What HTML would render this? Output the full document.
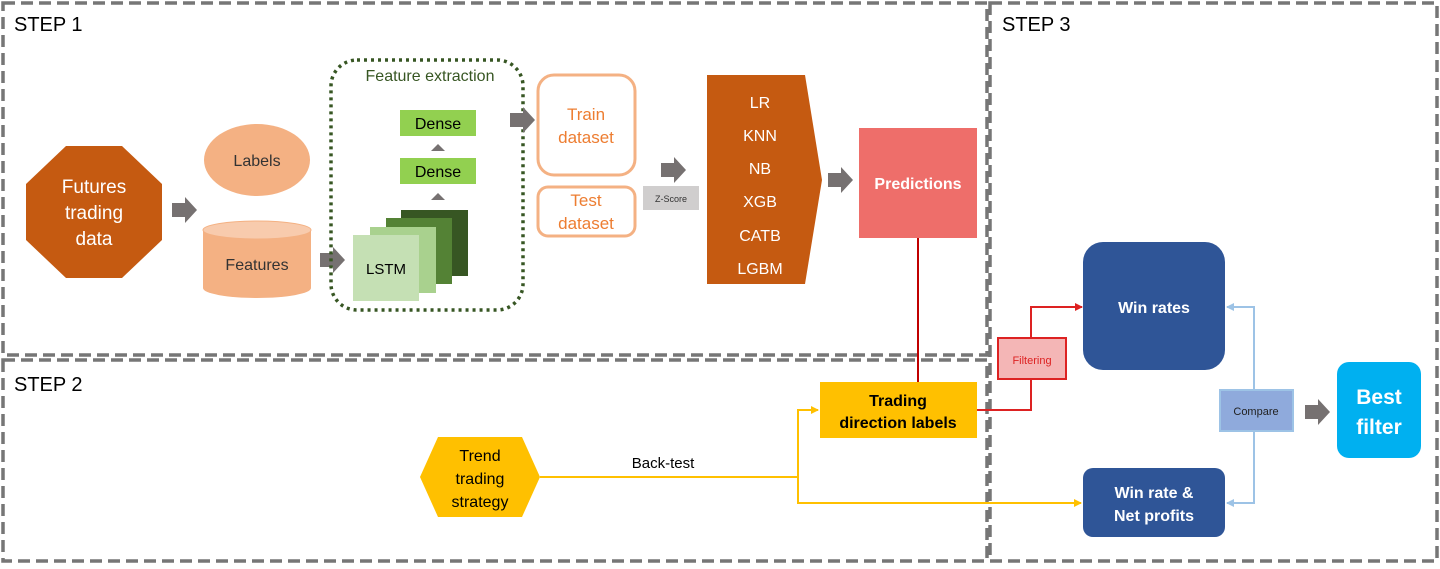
<!DOCTYPE html>
<html><head><meta charset="utf-8"><style>
body{margin:0;background:#fff}
svg text{font-family:"Liberation Sans","DejaVu Sans",sans-serif}
</style></head><body>
<svg width="1440" height="564" viewBox="0 0 1440 564" xmlns="http://www.w3.org/2000/svg">
<defs>
<marker id="ar" markerWidth="8" markerHeight="8" refX="7" refY="4" orient="auto" markerUnits="userSpaceOnUse"><path d="M0,0 L8,4 L0,8 Z" fill="#d22"/></marker>
<marker id="ay" markerWidth="8" markerHeight="8" refX="7" refY="4" orient="auto" markerUnits="userSpaceOnUse"><path d="M0,0 L8,4 L0,8 Z" fill="#ffc000"/></marker>
<marker id="ab" markerWidth="8" markerHeight="8" refX="7" refY="4" orient="auto" markerUnits="userSpaceOnUse"><path d="M0,0 L8,4 L0,8 Z" fill="#9dc3e6"/></marker>
<g id="ga"><path d="M0,-7 L13,-7 L13,-13 L25,0 L13,13 L13,7 L0,7 Z" fill="#767171"/></g>
</defs>
<g fill="none" stroke="#767676" stroke-width="3.5" stroke-dasharray="12,6">
<rect x="3" y="3" width="984" height="352"/>
<rect x="3" y="360" width="984" height="201"/>
<rect x="990" y="3" width="447" height="558"/>
</g>
<g font-size="20" fill="#000"><text x="14" y="31">STEP 1</text><text x="14" y="391">STEP 2</text><text x="1002" y="31">STEP 3</text></g>

<polygon points="66,146 122,146 162,184 162,240 122,278 66,278 26,240 26,184" fill="#c55a11"/>
<g fill="#fff" font-size="19" text-anchor="middle"><text x="94" y="193">Futures</text><text x="94" y="219">trading</text><text x="94" y="245">data</text></g>
<use href="#ga" x="172" y="210"/>
<ellipse cx="257" cy="160" rx="53" ry="36" fill="#f4b183"/>
<text x="257" y="166" font-size="16" fill="#333" text-anchor="middle">Labels</text>
<path d="M203,230 L203,288 A54,10 0 0 0 311,288 L311,230" fill="#f4b183"/>
<ellipse cx="257" cy="230" rx="54" ry="9" fill="#f8cbad" stroke="#f4b183"/>
<text x="257" y="270" font-size="16" fill="#333" text-anchor="middle">Features</text>
<use href="#ga" x="320" y="260"/>

<rect x="331" y="60" width="192" height="250" rx="26" fill="none" stroke="#375623" stroke-width="3.5" stroke-dasharray="3,4"/>
<text x="430" y="81" font-size="16" fill="#375623" text-anchor="middle">Feature extraction</text>
<rect x="401" y="210" width="67" height="66" fill="#375623"/>
<rect x="386" y="218" width="66" height="66" fill="#548235"/>
<rect x="370" y="227" width="66" height="66" fill="#a9d18e"/>
<rect x="353" y="235" width="66" height="66" fill="#c5e0b4"/>
<text x="386" y="274" font-size="15" fill="#000" text-anchor="middle">LSTM</text>
<rect x="400" y="110" width="76" height="26" fill="#92d050"/>
<rect x="400" y="158" width="76" height="26" fill="#92d050"/>
<g font-size="16" fill="#000" text-anchor="middle"><text x="438" y="129">Dense</text><text x="438" y="177">Dense</text></g>
<polygon points="431,151 445,151 438,144" fill="#767171"/>
<polygon points="431,200 445,200 438,193" fill="#767171"/>
<use href="#ga" x="510" y="120"/>

<rect x="538" y="75" width="97" height="100" rx="16" fill="none" stroke="#f4b183" stroke-width="3"/>
<rect x="538" y="187" width="97" height="49" rx="10" fill="none" stroke="#f4b183" stroke-width="3"/>
<g font-size="17" fill="#ed7d31" text-anchor="middle"><text x="586" y="120">Train</text><text x="586" y="143">dataset</text><text x="586" y="206">Test</text><text x="586" y="229">dataset</text></g>
<use href="#ga" x="661" y="170"/>
<rect x="643" y="186" width="56" height="24" fill="#d0cece"/>
<text x="671" y="202" font-size="9" fill="#333" text-anchor="middle">Z-Score</text>

<polygon points="707,75 805,75 822,180 805,284 707,284" fill="#c55a11"/>
<g font-size="16" fill="#fff" text-anchor="middle"><text x="760" y="108">LR</text><text x="760" y="141">KNN</text><text x="760" y="174">NB</text><text x="760" y="207">XGB</text><text x="760" y="241">CATB</text><text x="760" y="274">LGBM</text></g>
<use href="#ga" x="828" y="180"/>
<rect x="859" y="128" width="118" height="110" fill="#ee6e6a"/>
<text x="918" y="189" font-size="16" font-weight="bold" fill="#fff" text-anchor="middle">Predictions</text>

<line x1="918" y1="238" x2="918" y2="382" stroke="#c00000" stroke-width="2"/>
<polyline points="977,410 1031,410 1031,307 1082,307" fill="none" stroke="#d22" stroke-width="2" marker-end="url(#ar)"/>
<rect x="998" y="338" width="68" height="41" fill="#f4b6b6" stroke="#d22" stroke-width="2"/>
<text x="1032" y="364" font-size="11" fill="#d22" text-anchor="middle">Filtering</text>
<rect x="820" y="382" width="157" height="56" fill="#ffc000"/>
<g font-size="16" font-weight="bold" fill="#000" text-anchor="middle"><text x="898" y="406">Trading</text><text x="898" y="428">direction labels</text></g>

<polygon points="438,437 522,437 540,477 522,517 438,517 420,477" fill="#ffc000"/>
<g font-size="16" fill="#000" text-anchor="middle"><text x="480" y="461">Trend</text><text x="480" y="484">trading</text><text x="480" y="507">strategy</text></g>
<text x="663" y="468" font-size="15" fill="#000" text-anchor="middle">Back-test</text>
<polyline points="540,477 798,477 798,410 818,410" fill="none" stroke="#ffc000" stroke-width="2" marker-end="url(#ay)"/>
<polyline points="798,477 798,503 1081,503" fill="none" stroke="#ffc000" stroke-width="2" marker-end="url(#ay)"/>

<rect x="1083" y="242" width="142" height="128" rx="20" fill="#2f5597"/>
<text x="1154" y="313" font-size="16" font-weight="bold" fill="#fff" text-anchor="middle">Win rates</text>
<rect x="1083" y="468" width="142" height="69" rx="10" fill="#2f5597"/>
<g font-size="16" font-weight="bold" fill="#fff" text-anchor="middle"><text x="1154" y="498">Win rate &amp;</text><text x="1154" y="521">Net profits</text></g>
<polyline points="1254,390 1254,307 1227,307" fill="none" stroke="#9dc3e6" stroke-width="2" marker-end="url(#ab)"/>
<polyline points="1254,431 1254,503 1227,503" fill="none" stroke="#9dc3e6" stroke-width="2" marker-end="url(#ab)"/>
<rect x="1220" y="390" width="73" height="41" fill="#8faadc" stroke="#9dc3e6" stroke-width="2"/>
<text x="1256" y="415" font-size="11" fill="#222" text-anchor="middle">Compare</text>
<use href="#ga" x="1305" y="412"/>
<rect x="1337" y="362" width="84" height="96" rx="12" fill="#00b0f0"/>
<g font-size="21" font-weight="bold" fill="#fff" text-anchor="middle"><text x="1379" y="404">Best</text><text x="1379" y="434">filter</text></g>
</svg>
</body></html>
